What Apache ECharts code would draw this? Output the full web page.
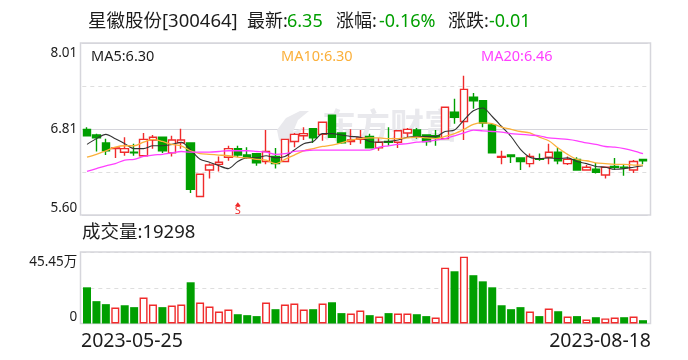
<!DOCTYPE html>
<html><head><meta charset="utf-8">
<style>html,body{margin:0;padding:0;background:#fff}#c{width:688px;height:360px}</style>
<script src="https://cdn.jsdelivr.net/npm/echarts@6/dist/echarts.min.js"></script></head>
<body><div id="c"></div>
<script>
const categories=['2023-05-25','2023-05-26','2023-05-29','2023-05-30','2023-05-31','2023-06-01','2023-06-02','2023-06-05','2023-06-06','2023-06-07','2023-06-08','2023-06-09','2023-06-12','2023-06-13','2023-06-14','2023-06-15','2023-06-16','2023-06-19','2023-06-20','2023-06-21','2023-06-26','2023-06-27','2023-06-28','2023-06-29','2023-06-30','2023-07-03','2023-07-04','2023-07-05','2023-07-06','2023-07-07','2023-07-10','2023-07-11','2023-07-12','2023-07-13','2023-07-14','2023-07-17','2023-07-18','2023-07-19','2023-07-20','2023-07-21','2023-07-24','2023-07-25','2023-07-26','2023-07-27','2023-07-28','2023-07-31','2023-08-01','2023-08-02','2023-08-03','2023-08-04','2023-08-07','2023-08-08','2023-08-09','2023-08-10','2023-08-11','2023-08-14','2023-08-15','2023-08-16','2023-08-17','2023-08-18'];
// open, close, low, high
const ohlc=[[6.80,6.71,6.71,6.83],[6.72,6.68,6.49,6.74],[6.61,6.50,6.44,6.67],[6.53,6.54,6.40,6.54],[6.48,6.53,6.43,6.69],[6.48,6.47,6.43,6.60],[6.43,6.66,6.43,6.75],[6.65,6.69,6.53,6.72],[6.69,6.50,6.47,6.69],[6.47,6.65,6.42,6.71],
[6.61,6.65,6.53,6.81],[6.61,5.96,5.91,6.61],[5.86,6.17,5.85,6.17],[6.23,6.30,6.11,6.32],[6.31,6.34,6.21,6.42],[6.41,6.53,6.36,6.57],[6.53,6.44,6.41,6.57],[6.44,6.41,6.39,6.55],[6.46,6.33,6.29,6.46],[6.35,6.49,6.31,6.79],
[6.42,6.32,6.25,6.54],[6.35,6.66,6.35,6.66],[6.63,6.73,6.55,6.75],[6.71,6.74,6.65,6.83],[6.81,6.68,6.61,6.82],[6.73,6.90,6.64,6.90],[7.00,6.69,6.68,7.00],[6.75,6.61,6.60,6.76],[6.63,6.65,6.58,6.80],[6.66,6.68,6.60,6.79],
[6.70,6.54,6.54,6.74],[6.54,6.62,6.50,6.68],[6.63,6.62,6.57,6.83],[6.62,6.78,6.54,6.78],[6.75,6.80,6.69,6.82],[6.79,6.71,6.67,6.82],[6.72,6.63,6.57,6.72],[6.71,6.69,6.57,6.79],[6.67,7.11,6.66,7.11],[7.04,6.97,6.88,7.23],
[6.91,7.36,6.65,7.55],[7.25,7.20,7.09,7.31],[7.20,6.89,6.83,7.20],[6.86,6.47,6.46,6.89],[6.41,6.42,6.31,6.50],[6.44,6.42,6.33,6.45],[6.40,6.35,6.23,6.41],[6.32,6.42,6.27,6.46],[6.39,6.38,6.36,6.46],[6.41,6.48,6.31,6.60],
[6.48,6.36,6.31,6.54],[6.32,6.38,6.30,6.42],[6.38,6.23,6.22,6.41],[6.23,6.27,6.23,6.30],[6.24,6.20,6.18,6.33],[6.16,6.27,6.11,6.28],[6.28,6.27,6.23,6.40],[6.27,6.26,6.15,6.30],[6.23,6.35,6.19,6.37],[6.38,6.36,6.31,6.38]];
const ma5=[6.59,6.67,6.73,6.67,6.60,6.53,6.53,6.57,6.57,6.59,6.62,6.51,6.38,6.34,6.29,6.25,6.35,6.40,6.40,6.43,6.40,6.42,6.51,6.60,6.63,6.74,6.74,6.72,6.70,6.69,6.63,6.62,6.63,6.65,6.69,6.70,6.70,6.70,6.77,6.79,6.93,7.06,7.10,6.98,6.84,6.70,6.52,6.41,6.39,6.40,6.39,6.40,6.35,6.32,6.28,6.27,6.24,6.25,6.27,6.29];
const ma10=[6.41,6.45,6.50,6.55,6.57,6.57,6.62,6.66,6.63,6.59,6.57,6.50,6.46,6.45,6.44,6.43,6.41,6.40,6.38,6.37,6.32,6.38,6.44,6.50,6.53,6.56,6.58,6.61,6.65,6.67,6.68,6.68,6.67,6.67,6.68,6.69,6.68,6.67,6.70,6.74,6.80,6.87,6.89,6.88,6.83,6.80,6.77,6.75,6.69,6.64,6.54,6.45,6.38,6.36,6.33,6.32,6.31,6.31,6.30,6.30];
const ma20=[6.21,6.25,6.29,6.32,6.37,6.38,6.42,6.44,6.45,6.47,6.49,6.48,6.48,6.48,6.49,6.50,6.50,6.50,6.49,6.48,6.45,6.46,6.49,6.50,6.51,6.51,6.51,6.51,6.51,6.51,6.51,6.55,6.57,6.59,6.60,6.62,6.63,6.65,6.67,6.71,6.75,6.79,6.78,6.77,6.76,6.74,6.73,6.72,6.71,6.68,6.67,6.66,6.64,6.61,6.59,6.56,6.55,6.53,6.50,6.46];
const volumes=[23.0,14.2,12.3,10.1,11.6,10.4,16.5,12.0,10.4,11.4,12.0,26.2,13.3,10.8,7.6,8.9,5.9,5.3,4.7,13.3,9.1,12.0,12.7,8.9,9.1,12.7,13.5,6.6,6.3,8.2,5.3,4.4,6.6,6.3,6.3,5.9,4.7,3.8,35.5,33.2,42.5,30.7,26.8,23.0,11.6,9.1,10.4,7.6,4.7,9.5,7.8,4.4,4.7,2.5,4.0,3.2,3.8,4.0,4.4,2.1];
const volumeUp=[0,0,0,1,0,0,1,1,0,1,1,0,1,1,1,1,0,0,0,1,0,1,1,1,0,1,0,0,1,1,0,1,0,1,1,0,0,1,1,0,1,0,0,0,0,0,0,1,0,1,0,1,0,1,0,1,1,0,1,0];
const priceTicks=['5.60','','6.81','','8.01'];
const volumeTicks=['0','','45.45万'];
const priceMin=5.6, priceMax=8.01, volumeMax=45.45;
const dateLabels=['2023-05-25','2023-08-18'];
const sellIndex=16;

const RED='#f02b2b',GREEN='#009f00',BORDER='#d6d6dc',DASH='#dedede',INK='#1c1c1c',ORANGE='#fbb03b',PINK='#ff40ff';
const FONT='"Noto Sans","Noto Sans CJK SC",sans-serif';
const gridX={left:82.3,width:565.4};
const txt=(x,y,text,fill,size,align)=>({type:'text',z:20,silent:true,style:{x,y,text,fill,font:`${size}px ${FONT}`,textAlign:align||'left',textVerticalAlign:'middle'}});
const frame=(y,h)=>({type:'rect',z:1,silent:true,shape:{x:80.5,y,width:570,height:h},style:{fill:'none',stroke:BORDER,lineWidth:1.5}});
const axisHidden={axisLine:{show:false},axisTick:{show:false},axisLabel:{show:false}};
const yLabel=(ticks)=>({color:INK,fontSize:13.5,fontFamily:FONT,margin:5,padding:[3,0,0,0],verticalAlignMinLabel:'bottom',verticalAlignMaxLabel:'top',formatter:(v,i)=>ticks[i]});
const chart=echarts.init(document.getElementById('c'),null,{renderer:'canvas'});
chart.setOption({
 animation:false,backgroundColor:'#fff',
 grid:[{...gridX,top:43,height:172},{...gridX,top:252,height:71.5}],
 xAxis:[{type:'category',gridIndex:0,data:categories,...axisHidden,splitLine:{show:false}},
        {type:'category',gridIndex:1,data:categories,...axisHidden,splitLine:{show:false}}],
 yAxis:[{type:'value',gridIndex:0,min:priceMin,max:priceMax,interval:(priceMax-priceMin)/4,
   axisLine:{show:false},axisTick:{show:false},axisLabel:yLabel(priceTicks),
   splitLine:{show:true,lineStyle:{color:DASH,type:[4,4],width:1}}},
  {type:'value',gridIndex:0,min:priceMin,max:priceMax,interval:(priceMax-priceMin)/2,...axisHidden,
   splitLine:{show:true,lineStyle:{color:BORDER,width:1}}},
  {type:'value',gridIndex:1,min:0,max:volumeMax,interval:volumeMax/2,
   axisLine:{show:false},axisTick:{show:false},axisLabel:yLabel(volumeTicks),
   splitLine:{show:true,lineStyle:{color:DASH,type:[4,4],width:1}}}],
 series:[
  {type:'candlestick',xAxisIndex:0,yAxisIndex:0,data:ohlc,barWidth:8,z:3,
   itemStyle:{color:'#fff',color0:GREEN,borderColor:RED,borderColor0:GREEN,borderWidth:1.4},
   markPoint:{silent:true,animation:false,data:[
     {coord:[sellIndex,5.75],symbol:'triangle',symbolSize:[6,4],itemStyle:{color:RED},label:{show:false}},
     {coord:[sellIndex,5.665],symbol:'rect',symbolSize:[1,1],itemStyle:{color:'rgba(0,0,0,0)'},label:{show:true,position:'inside',formatter:'S',color:RED,fontSize:11,fontFamily:FONT}}]}},
  {type:'line',name:'MA5',xAxisIndex:0,yAxisIndex:0,data:ma5,symbol:'none',smooth:0.3,z:4,lineStyle:{color:'#333',width:1.1}},
  {type:'line',name:'MA10',xAxisIndex:0,yAxisIndex:0,data:ma10,symbol:'none',smooth:0.3,z:4,lineStyle:{color:ORANGE,width:1.3}},
  {type:'line',name:'MA20',xAxisIndex:0,yAxisIndex:0,data:ma20,symbol:'none',smooth:0.3,z:4,lineStyle:{color:PINK,width:1.3}},
  {type:'bar',xAxisIndex:1,yAxisIndex:2,barWidth:8,z:3,
   data:volumes.map((v,i)=>({value:v,itemStyle:volumeUp[i]?{color:'#fff',borderColor:RED,borderWidth:1.4}:{color:GREEN}}))}
 ],
 graphic:{elements:[
  frame(43,172),frame(252,71.5),
  {type:'text',z:1,silent:true,style:{x:322,y:128,text:'东方财富',fill:'#e9e9ed',font:`bold 34px ${FONT}`,textVerticalAlign:'middle'}},
  {type:'polygon',z:1,silent:true,shape:{points:[[277,130],[286,118],[300,111],[309,111],[298,120],[293,132],[302,128],[298,140],[286,145],[279,140]]},style:{fill:'#e9e9ed'}},
  txt(88,22,'星徽股份[300464]',INK,18.5),
  txt(247,22,'最新:',INK,18),txt(287,22,'6.35',GREEN,18),
  txt(336,22,'涨幅:',INK,18),txt(379,22,'-0.16%',GREEN,18),
  txt(448,22,'涨跌:',INK,18),txt(489,22,'-0.01',GREEN,18),
  txt(91,57,'MA5:6.30',INK,14.5),txt(281,57,'MA10:6.30',ORANGE,14.5),txt(481,57,'MA20:6.46',PINK,14.5),
  txt(82,233,'成交量:19298',INK,18.5),
  txt(81,341,dateLabels[0],INK,19.5),txt(651,341,dateLabels[1],INK,19.5,'right')
 ]}
});
</script></body></html>
